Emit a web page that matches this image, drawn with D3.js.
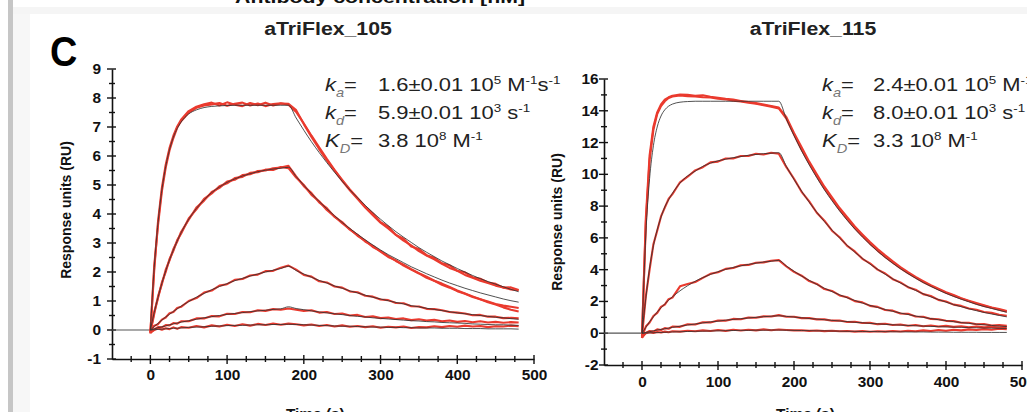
<!DOCTYPE html>
<html><head><meta charset="utf-8">
<script src="https://cdn.jsdelivr.net/npm/d3@7"></script>
<style>
body{margin:0;background:#fff;}
svg{display:block;font-family:"Liberation Sans",Arial,Helvetica,sans-serif;}
</style>
</head><body>
<svg id="c" width="1027" height="412"></svg>
<script>
// ---------- data ----------
const times = [0,5,10,15,20,25,30,35,40,50,60,70,80,90,100,110,120,130,140,150,160,170,180,190,200,210,220,230,240,250,260,270,280,290,300,310,320,330,340,350,360,370,380,390,400,410,420,430,440,450,460,470,480];
const baselineTimes = [-50, 0];
const baselineValues = [0, 0];
const xTicks = [0,100,200,300,400,500];
const leftYTicks = [-1,0,1,2,3,4,5,6,7,8,9];
const rightYTicks = [-2,0,2,4,6,8,10,12,14,16];
const titles = ["aTriFlex_105", "aTriFlex_115"];
const yAxisTitle = "Response units (RU)";
const xAxisTitle = "Time (s)";
const paramSymbols = [["k","a"],["k","d"],["K","D"]];
const leftParams = [
  [["1.6±0.01 10","n"],["5","s"],[" M","n"],["-1","s"],["s","n"],["-1","s"]],
  [["5.9±0.01 10","n"],["3","s"],[" s","n"],["-1","s"]],
  [["3.8 10","n"],["8","s"],[" M","n"],["-1","s"]]
];
const rightParams = [
  [["2.4±0.01 10","n"],["5","s"],[" M","n"],["-1","s"],["s","n"],["-1","s"]],
  [["8.0±0.01 10","n"],["3","s"],[" s","n"],["-1","s"]],
  [["3.3 10","n"],["8","s"],[" M","n"],["-1","s"]]
];

// left panel (aTriFlex_105) fitted curves
const leftFit1 = [0,2.15,3.70,4.83,5.64,6.22,6.65,6.95,7.17,7.45,7.59,7.67,7.71,7.73,7.74,7.75,7.75,7.75,7.75,7.75,7.75,7.75,7.75,
7.31,6.89,6.49,6.12,5.77,5.44,5.13,4.83,4.56,4.30,4.05,3.82,3.60,3.39,3.20,3.02,2.84,2.68,2.53,2.38,2.25,2.12,2.00,1.88,1.77,1.67,1.58,1.49,1.40,1.32];
const leftFit2 = [0,0.60,1.13,1.61,2.04,2.42,2.76,3.07,3.35,3.82,4.19,4.49,4.74,4.93,5.09,5.21,5.31,5.39,5.46,5.51,5.55,5.58,5.61,
5.29,4.99,4.70,4.43,4.18,3.94,3.71,3.50,3.30,3.11,2.93,2.76,2.60,2.46,2.32,2.18,2.06,1.94,1.83,1.72,1.62,1.53,1.44,1.36,1.28,1.21,1.14,1.07,1.01,0.96];
const leftFit3 = [0,0.12,0.23,0.34,0.45,0.54,0.64,0.73,0.82,0.98,1.13,1.26,1.39,1.50,1.60,1.70,1.78,1.86,1.93,2.00,2.06,2.12,2.20,
2.05,1.93,1.82,1.71,1.62,1.52,1.44,1.35,1.28,1.20,1.13,1.07,1.01,0.95,0.90,0.84,0.80,0.75,0.71,0.67,0.63,0.59,0.56,0.53,0.50,0.47,0.44,0.42,0.39,0.37];
const leftFit4 = [0,0.04,0.08,0.11,0.14,0.18,0.21,0.24,0.27,0.32,0.37,0.42,0.46,0.50,0.54,0.57,0.60,0.63,0.66,0.68,0.71,0.73,0.80,
0.74,0.70,0.66,0.62,0.59,0.56,0.53,0.50,0.47,0.45,0.42,0.40,0.38,0.36,0.34,0.32,0.31,0.29,0.28,0.26,0.25,0.24,0.23,0.21,0.20,0.19,0.18,0.18,0.17,0.16];
const leftFit5 = [0,0.01,0.02,0.03,0.04,0.05,0.06,0.06,0.07,0.09,0.10,0.11,0.13,0.14,0.15,0.16,0.16,0.17,0.18,0.18,0.19,0.19,0.20,
0.19,0.18,0.17,0.16,0.15,0.14,0.13,0.13,0.12,0.11,0.10,0.10,0.09,0.09,0.08,0.08,0.07,0.07,0.07,0.06,0.06,0.06,0.05,0.05,0.05,0.04,0.04,0.04,0.04,0.03];

// left panel measured responses
const leftRed1a = [-0.08,2.05,3.75,4.90,5.70,6.28,6.70,7.02,7.25,7.55,7.70,7.78,7.84,7.74,7.85,7.77,7.72,7.83,7.75,7.84,7.74,7.81,7.80,
7.58,7.10,6.66,6.24,5.85,5.50,5.14,4.82,4.52,4.22,3.96,3.70,3.50,3.28,3.08,2.92,2.72,2.57,2.44,2.28,2.14,2.04,1.90,1.80,1.70,1.62,1.53,1.47,1.40,1.37];
const leftRed1b = [-0.12,2.20,3.62,4.78,5.60,6.20,6.62,6.98,7.20,7.50,7.66,7.74,7.78,7.83,7.73,7.80,7.84,7.74,7.81,7.72,7.79,7.82,7.77,
7.52,7.12,6.70,6.30,5.90,5.52,5.18,4.85,4.55,4.26,4.02,3.72,3.56,3.28,3.15,2.88,2.79,2.58,2.49,2.30,2.23,2.04,1.99,1.82,1.77,1.64,1.59,1.46,1.47,1.38];
const leftRed2a = [-0.10,0.55,1.16,1.58,2.08,2.40,2.79,3.05,3.38,3.80,4.22,4.46,4.76,4.90,5.12,5.18,5.34,5.37,5.48,5.50,5.58,5.60,5.66,
5.30,4.96,4.72,4.40,4.20,3.90,3.72,3.46,3.28,3.05,2.90,2.70,2.52,2.40,2.22,2.08,1.95,1.80,1.70,1.56,1.46,1.34,1.25,1.14,1.06,0.98,0.90,0.84,0.80,0.76];
const leftRed2b = [-0.05,0.62,1.10,1.64,2.00,2.45,2.73,3.10,3.32,3.85,4.16,4.52,4.71,4.96,5.06,5.24,5.28,5.42,5.44,5.53,5.52,5.62,5.58,
5.26,5.00,4.66,4.44,4.14,3.92,3.68,3.48,3.25,3.08,2.86,2.72,2.55,2.38,2.25,2.10,1.96,1.84,1.70,1.60,1.48,1.36,1.26,1.16,1.06,0.96,0.88,0.78,0.70,0.64];
const leftRed3 = [-0.06,0.15,0.20,0.36,0.43,0.58,0.62,0.76,0.80,1.00,1.10,1.29,1.36,1.53,1.58,1.73,1.76,1.88,1.91,2.03,2.04,2.15,2.22,
2.08,1.90,1.84,1.68,1.64,1.50,1.46,1.33,1.30,1.18,1.15,1.05,1.03,0.93,0.92,0.82,0.81,0.73,0.72,0.68,0.62,0.60,0.57,0.51,0.52,0.46,0.46,0.41,0.42,0.40];
const leftRed4 = [-0.10,0.02,0.10,0.09,0.17,0.16,0.24,0.22,0.30,0.30,0.40,0.40,0.48,0.47,0.56,0.55,0.62,0.61,0.68,0.66,0.72,0.70,0.74,
0.70,0.66,0.68,0.60,0.62,0.55,0.57,0.50,0.52,0.45,0.47,0.41,0.43,0.38,0.40,0.34,0.37,0.33,0.35,0.30,0.33,0.28,0.31,0.27,0.30,0.26,0.28,0.25,0.27,0.26];
const leftRed5 = [-0.08,0.00,0.05,0.01,0.06,0.03,0.09,0.04,0.10,0.08,0.14,0.09,0.16,0.12,0.18,0.14,0.20,0.15,0.21,0.17,0.22,0.18,0.22,
0.20,0.16,0.19,0.14,0.17,0.12,0.16,0.11,0.14,0.10,0.13,0.08,0.11,0.09,0.12,0.07,0.10,0.09,0.13,0.10,0.14,0.11,0.15,0.12,0.14,0.10,0.13,0.12,0.15,0.13];

// right panel (aTriFlex_115) fitted curves
const rightFit1 = [0,6.18,9.74,11.80,12.98,13.67,14.06,14.29,14.42,14.54,14.58,14.60,14.60,14.60,14.60,14.60,14.60,14.60,14.60,14.60,14.60,14.60,14.60,
13.48,12.44,11.48,10.60,9.79,9.03,8.34,7.70,7.11,6.56,6.06,5.59,5.16,4.76,4.40,4.06,3.75,3.46,3.19,2.95,2.72,2.51,2.32,2.14,1.98,1.82,1.68,1.56,1.44,1.32];
const rightFit2 = [0,2.20,4.10,5.50,6.50,7.30,7.95,8.40,8.80,9.45,9.90,10.20,10.50,10.70,10.85,10.95,11.05,11.12,11.20,11.25,11.30,11.33,11.36,
10.49,9.68,8.94,8.25,7.61,7.03,6.49,5.99,5.53,5.10,4.71,4.35,4.02,3.71,3.42,3.16,2.92,2.69,2.48,2.29,2.12,1.96,1.80,1.67,1.54,1.42,1.31,1.21,1.12,1.03];
const rightFit3 = [0,0.37,0.72,1.03,1.33,1.60,1.85,2.08,2.29,2.67,2.99,3.27,3.50,3.70,3.87,4.02,4.14,4.24,4.33,4.41,4.48,4.53,4.58,
4.23,3.90,3.60,3.33,3.07,2.83,2.62,2.42,2.23,2.06,1.90,1.75,1.62,1.49,1.38,1.27,1.18,1.08,1.00,0.92,0.85,0.79,0.73,0.67,0.62,0.57,0.53,0.49,0.45,0.42];
const rightFit4 = [0,0.05,0.10,0.15,0.20,0.24,0.28,0.32,0.37,0.44,0.52,0.58,0.65,0.71,0.76,0.82,0.87,0.91,0.96,1.00,1.04,1.07,1.10,
1.06,1.02,0.97,0.93,0.89,0.85,0.81,0.77,0.73,0.69,0.66,0.62,0.59,0.56,0.53,0.51,0.49,0.47,0.45,0.43,0.41,0.40,0.38,0.37,0.35,0.34,0.33,0.32,0.31,0.30];
const rightFit5 = [0,0.01,0.02,0.03,0.04,0.05,0.06,0.07,0.08,0.09,0.11,0.12,0.13,0.14,0.15,0.16,0.17,0.18,0.18,0.19,0.19,0.20,0.20,
0.19,0.18,0.17,0.16,0.15,0.15,0.14,0.13,0.12,0.12,0.11,0.11,0.10,0.10,0.09,0.09,0.08,0.08,0.08,0.07,0.07,0.07,0.06,0.06,0.06,0.06,0.05,0.05,0.05,0.05];

// right panel measured responses
const rightRed1a = [-0.30,7.20,11.20,13.00,13.90,14.40,14.70,14.85,14.95,15.02,15.00,14.95,14.98,14.88,14.82,14.75,14.70,14.62,14.55,14.48,14.40,14.30,14.20,
13.60,12.60,11.70,10.80,10.00,9.22,8.55,7.88,7.30,6.72,6.22,5.74,5.30,4.90,4.52,4.16,3.84,3.55,3.28,3.02,2.80,2.58,2.40,2.20,2.05,1.90,1.76,1.62,1.52,1.40];
const rightRed1b = [-0.20,6.90,10.90,12.80,13.80,14.30,14.60,14.80,14.90,14.96,14.92,14.90,14.85,14.84,14.76,14.72,14.64,14.58,14.50,14.44,14.35,14.26,14.15,
13.50,12.50,11.55,10.70,9.88,9.12,8.44,7.78,7.18,6.62,6.12,5.64,5.20,4.80,4.44,4.10,3.78,3.50,3.22,2.98,2.76,2.55,2.36,2.18,2.02,1.86,1.72,1.60,1.48,1.36];
const rightRed2 = [-0.20,2.30,4.00,5.60,6.45,7.35,7.90,8.45,8.75,9.50,9.85,10.25,10.45,10.75,10.80,11.00,11.00,11.15,11.15,11.30,11.25,11.36,11.30,
10.45,9.72,8.90,8.30,7.58,7.08,6.45,6.04,5.50,5.15,4.68,4.40,4.00,3.76,3.40,3.20,2.90,2.74,2.46,2.34,2.10,2.00,1.80,1.72,1.56,1.48,1.34,1.28,1.16,1.10];
const rightRed3 = [-0.25,0.42,0.68,1.08,1.28,1.66,1.80,2.14,2.24,2.95,3.10,3.22,3.48,3.74,3.84,4.05,4.10,4.28,4.30,4.44,4.46,4.56,4.60,
4.20,3.86,3.62,3.28,3.10,2.78,2.66,2.38,2.26,2.02,1.94,1.72,1.66,1.46,1.42,1.24,1.22,1.05,1.04,0.90,0.88,0.78,0.76,0.66,0.66,0.56,0.58,0.48,0.52,0.46];
const rightRed4 = [-0.30,0.02,0.14,0.10,0.24,0.20,0.32,0.28,0.42,0.40,0.56,0.55,0.69,0.68,0.80,0.79,0.90,0.88,0.99,0.97,1.06,1.05,1.14,
1.04,1.04,0.95,0.95,0.87,0.87,0.79,0.80,0.71,0.72,0.64,0.65,0.57,0.60,0.52,0.55,0.47,0.52,0.44,0.49,0.42,0.46,0.40,0.44,0.38,0.42,0.37,0.41,0.36,0.38];
const rightRed5 = [-0.20,0.00,0.06,0.02,0.08,0.04,0.10,0.06,0.12,0.10,0.16,0.12,0.18,0.14,0.20,0.15,0.22,0.17,0.22,0.18,0.24,0.19,0.23,
0.20,0.18,0.19,0.15,0.17,0.13,0.16,0.12,0.14,0.10,0.13,0.09,0.12,0.10,0.14,0.11,0.16,0.12,0.18,0.14,0.20,0.16,0.22,0.18,0.24,0.20,0.26,0.22,0.28,0.25];

// ---------- layout ----------
const panels = [
  {title: titles[0], params: leftParams, fits:[leftFit1,leftFit2,leftFit3,leftFit4,leftFit5],
   reds:[leftRed5,leftRed4,leftRed3,leftRed2b,leftRed2a,leftRed1b,leftRed1a],
   x0:112, x1:534, yTop:69, yBot:359, yDomain:[-1,9], yTicks:leftYTicks, yMinor:0.5,
   yPad:10, xLabY:21, titleX:328, annX:325, valX:378, yTitleX:66, yTitleY:210},
  {title: titles[1], params: rightParams, fits:[rightFit1,rightFit2,rightFit3,rightFit4,rightFit5],
   reds:[rightRed5,rightRed4,rightRed3,rightRed2,rightRed1b,rightRed1a],
   x0:604, x1:1022, yTop:79, yBot:365, yDomain:[-2,16], yTicks:rightYTicks, yMinor:1,
   yPad:5, xLabY:22, titleX:813, annX:822, valX:873, yTitleX:557, yTitleY:222}
];

const svg = d3.select("#c");
// page background pieces
svg.append("rect").attr("x",0).attr("y",0).attr("width",1027).attr("height",412).attr("fill","#fff");
svg.append("rect").attr("x",13).attr("y",7).attr("width",1014).attr("height",7).attr("fill","#f5f5f5");
svg.append("rect").attr("x",13).attr("y",14).attr("width",17).attr("height",398).attr("fill","#f7f7f7");
svg.append("rect").attr("x",8).attr("y",0).attr("width",5).attr("height",412).attr("fill","#c6c6c6");
svg.append("text").attr("x",235).attr("y",3).attr("font-size",17).attr("font-weight","bold")
  .attr("textLength",290).attr("lengthAdjust","spacingAndGlyphs").attr("fill","#111")
  .text("Antibody concentration [nM]");
svg.append("text").attr("transform","translate(50,66) scale(0.88,1)").attr("font-size",43)
  .attr("font-weight","bold").attr("fill","#000").text("C");

const RED = "#ea3a2e", FIT = "#333333";
const fmt = d => String(d);

panels.forEach(p => {
  const x = d3.scaleLinear().domain([-50,500]).range([p.x0,p.x1]);
  const y = d3.scaleLinear().domain(p.yDomain).range([p.yBot,p.yTop]);
  const g = svg.append("g");

  // y axis
  const ya = g.append("g").attr("transform",`translate(${p.x0},0)`)
    .call(d3.axisLeft(y).tickValues(p.yTicks).tickFormat(fmt).tickSize(0).tickSizeOuter(0).tickPadding(p.yPad));
  ya.select(".domain").attr("stroke","#111").attr("stroke-width",1.6);
  ya.selectAll(".tick text").attr("font-size",14).attr("font-weight","bold").attr("fill","#111")
    .attr("font-family","Liberation Sans, Arial, sans-serif").attr("transform","scale(1.1,1)");
  d3.range(p.yDomain[0], p.yDomain[1]+1e-9, p.yMinor).forEach(v => {
    const major = p.yTicks.includes(v);
    ya.append("line").attr("x1", major?-5:-3).attr("x2", major?4:3)
      .attr("y1", y(v)).attr("y2", y(v)).attr("stroke","#111").attr("stroke-width",1.4);
  });

  // x axis
  const xa = g.append("g").attr("transform",`translate(0,${p.yBot})`)
    .call(d3.axisBottom(x).tickValues(xTicks).tickFormat(fmt).tickSize(0).tickSizeOuter(0));
  xa.select(".domain").attr("stroke","#111").attr("stroke-width",1.6);
  xa.selectAll(".tick text").attr("font-size",14).attr("font-weight","bold").attr("fill","#111")
    .attr("font-family","Liberation Sans, Arial, sans-serif").attr("y",p.xLabY).attr("dy",0)
    .attr("transform","scale(1.1,1)");
  d3.range(-25, 501, 25).forEach(v => {
    const major = v % 100 === 0;
    xa.append("line").attr("x1",x(v)).attr("x2",x(v)).attr("y1",major?-4:-3).attr("y2",major?5:3)
      .attr("stroke","#111").attr("stroke-width",1.4);
  });

  // baseline
  g.append("path").datum(baselineValues)
    .attr("d", d3.line().x((d,i)=>x(baselineTimes[i])).y(d=>y(d)))
    .attr("fill","none").attr("stroke","#555").attr("stroke-width",1.2);

  // measured data
  const lineLin = d3.line().x((d,i)=>x(times[i])).y(d=>y(d));
  p.reds.forEach(arr => {
    g.append("path").datum(arr).attr("d", lineLin).attr("fill","none")
      .attr("stroke",RED).attr("stroke-width",2.1).attr("stroke-linejoin","round");
  });
  // fits
  const lineFit = d3.line().x((d,i)=>x(times[i])).y(d=>y(d)).curve(d3.curveMonotoneX);
  p.fits.forEach(arr => {
    g.append("path").datum(arr).attr("d", lineFit).attr("fill","none")
      .attr("stroke",FIT).attr("stroke-width",1.0).attr("stroke-opacity",0.85);
  });

  // title
  g.append("text").attr("transform",`translate(${p.titleX},35) scale(1.12,1)`)
    .attr("text-anchor","middle").attr("font-size",19).attr("font-weight","bold").attr("fill","#222")
    .text(p.title);

  // y title
  g.append("text").attr("transform",`translate(${p.yTitleX+5},${p.yTitleY}) rotate(-90)`)
    .attr("text-anchor","middle").attr("font-size",14).attr("font-weight","bold").attr("fill","#111")
    .text(yAxisTitle);

  // x title (clipped at bottom of page, as in the reference)
  g.append("text").attr("transform",`translate(${x(215)},419) scale(1.1,1)`)
    .attr("text-anchor","middle").attr("font-size",14).attr("font-weight","bold").attr("fill","#111")
    .text(xAxisTitle);

  // kinetic parameters
  const baselines = [91,119,147];
  paramSymbols.forEach((sym,i) => {
    const t = g.append("text").attr("transform",`translate(${p.annX},${baselines[i]}) scale(1.22,1)`)
      .attr("font-size",18).attr("fill","#222");
    t.append("tspan").attr("font-style","italic").text(sym[0]);
    t.append("tspan").attr("font-style","italic").attr("font-size",12).attr("fill","#777").attr("dy",6).text(sym[1]);
    t.append("tspan").attr("dy",-6).text("=");
    const v = g.append("text").attr("transform",`translate(${p.valX},${baselines[i]}) scale(1.22,1)`)
      .attr("font-size",18).attr("fill","#222");
    let up = false;
    p.params[i].forEach(seg => {
      const ts = v.append("tspan").text(seg[0]);
      if (seg[1] === "s") { ts.attr("font-size",11).attr("dy", up?0:-7); up = true; }
      else { if (up) ts.attr("dy",7); up = false; }
    });
  });
});
</script>
</body></html>
